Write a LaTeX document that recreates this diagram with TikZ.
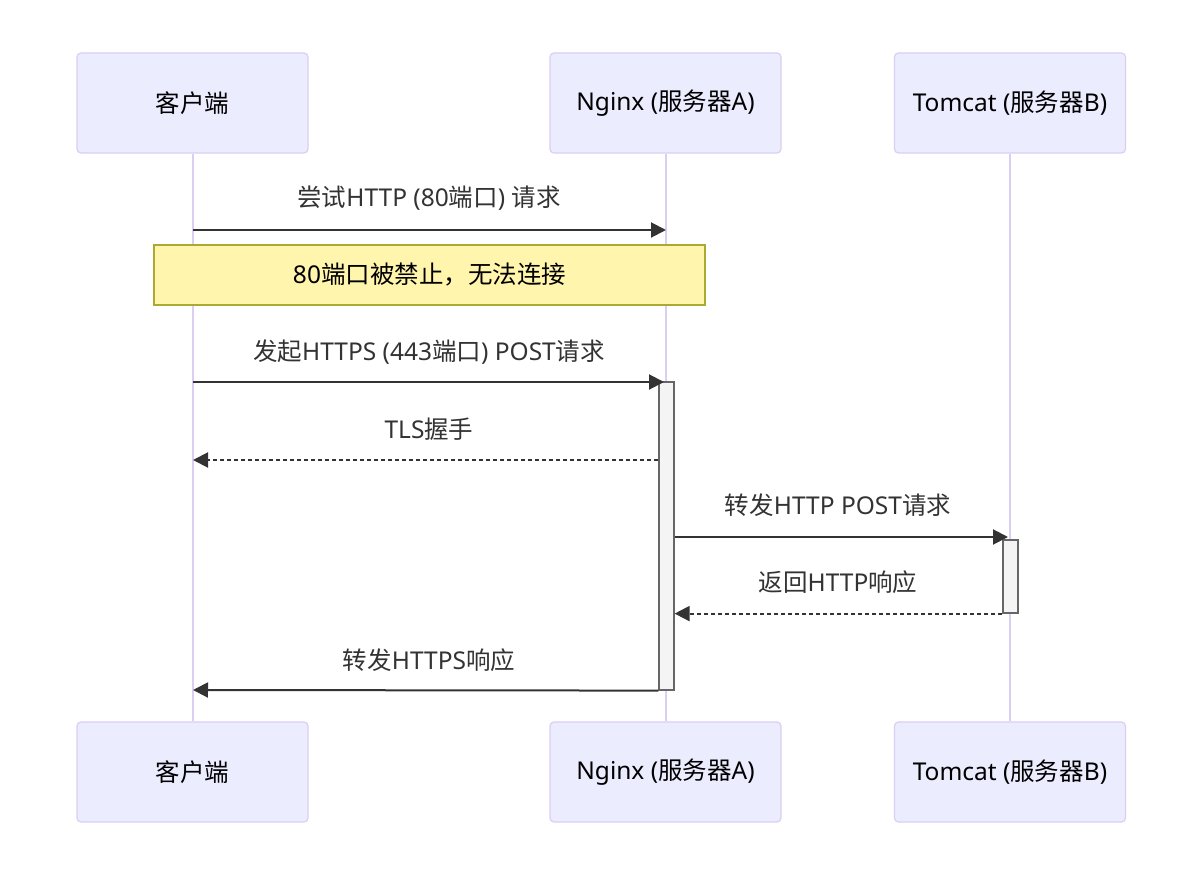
\documentclass[tikz,border=0pt]{standalone}
\usepackage{fontspec}
\setmainfont{Noto Sans}
\newfontfamily\cjkf{Noto Sans CJK SC}
\newcommand\CJ[1]{{\cjkf #1}}
\usetikzlibrary{arrows.meta}
\definecolor{actfill}{HTML}{ECECFF}
\definecolor{actline}{HTML}{DACEF3}
\definecolor{msgc}{HTML}{333333}
\definecolor{notefill}{HTML}{FFF5AD}
\definecolor{noteline}{HTML}{AAAA33}
\definecolor{actvfill}{HTML}{F4F4F4}
\definecolor{actvline}{HTML}{666666}
\tikzset{
  txt/.style={font=\fontsize{24.5}{28}\selectfont},
  actorbox/.style={txt, draw=actline, fill=actfill, line width=1.2pt, rounded corners=4pt,
    minimum width=231pt, minimum height=100pt, inner sep=0pt},
  lifeline/.style={draw=actline, line width=2pt},
  msg/.style={draw=msgc, line width=2pt, -{Triangle[length=15pt,width=15pt]}},
  reply/.style={msg, dash pattern=on 4pt off 3pt},
  msglabel/.style={txt, text=msgc, inner sep=0pt},
  notebox/.style={txt, draw=noteline, fill=notefill, line width=1.2pt, minimum width=551pt,
    minimum height=60pt, inner sep=0pt},
  activation/.style={draw=actvline, fill=actvfill, line width=1.2pt, minimum width=15pt, inner sep=0pt}
}
\begin{document}
\begin{tikzpicture}[x=1pt,y=-1pt]
\useasboundingbox (0,0) rectangle (1203,877);
\fill[white] (0,0) rectangle (1203,877);
% actors
\node[actorbox] (c) at (192.5,103) {\CJ{客户端}};
\node[actorbox] (n) at (665.5,103) {Nginx (\CJ{服务器}A)};
\node[actorbox] (t) at (1010,103) {Tomcat (\CJ{服务器}B)};
\node[actorbox] (c2) at (192.5,772) {\CJ{客户端}};
\node[actorbox] (n2) at (665.5,772) {Nginx (\CJ{服务器}A)};
\node[actorbox] (t2) at (1010,772) {Tomcat (\CJ{服务器}B)};
% lifelines
\draw[lifeline] (c.south) -- (c2.north);
\draw[lifeline] (n.south) -- (n2.north);
\draw[lifeline] (t.south) -- (t2.north);
% activations
\node[activation, minimum height=308pt] (an) at (666.5,536) {};
\node[activation, minimum height=73pt] (at) at (1010.5,576.5) {};
% coordinates
\coordinate (m1s) at (193,230);
\coordinate (m1e) at (666,230);
\coordinate (m2s) at (193,382);
\coordinate (m2e) at (664,382);
\coordinate (m3e) at (193,460);
\coordinate (m4e) at (1008,537);
\coordinate (m6e) at (193,690);
% message 1
\draw[msg] (m1s) -- (m1e);
\node[msglabel] (l1) at (429,198) {\CJ{尝试}HTTP (80\CJ{端口}) \CJ{请求}};
% note
\node[notebox] (note) at (429.5,275) {80\CJ{端口被禁止，无法连接}};
% activation boxes drawn over, arrows drawn after
% message 2
\draw[msg] (m2s) -- (m2e);
\node[msglabel] (l2) at (429,352) {\CJ{发起}HTTPS (443\CJ{端口}) POST\CJ{请求}};
% message 3
\draw[reply] (an.west |- m3e) -- (m3e);
\node[msglabel] (l3) at (429,429) {TLS\CJ{握手}};
% message 4
\draw[msg] (an.east |- m4e) -- (m4e);
\node[msglabel] (l4) at (838,505) {\CJ{转发}HTTP POST\CJ{请求}};
% message 5
\draw[reply] (at.south west) -- (an.east |- at.south);
\node[msglabel] (l5) at (838,582) {\CJ{返回}HTTP\CJ{响应}};
% message 6
\draw[msg] (an.south west) -- (m6e);
\node[msglabel] (l6) at (429,660) {\CJ{转发}HTTPS\CJ{响应}};
\end{tikzpicture}
\end{document}
